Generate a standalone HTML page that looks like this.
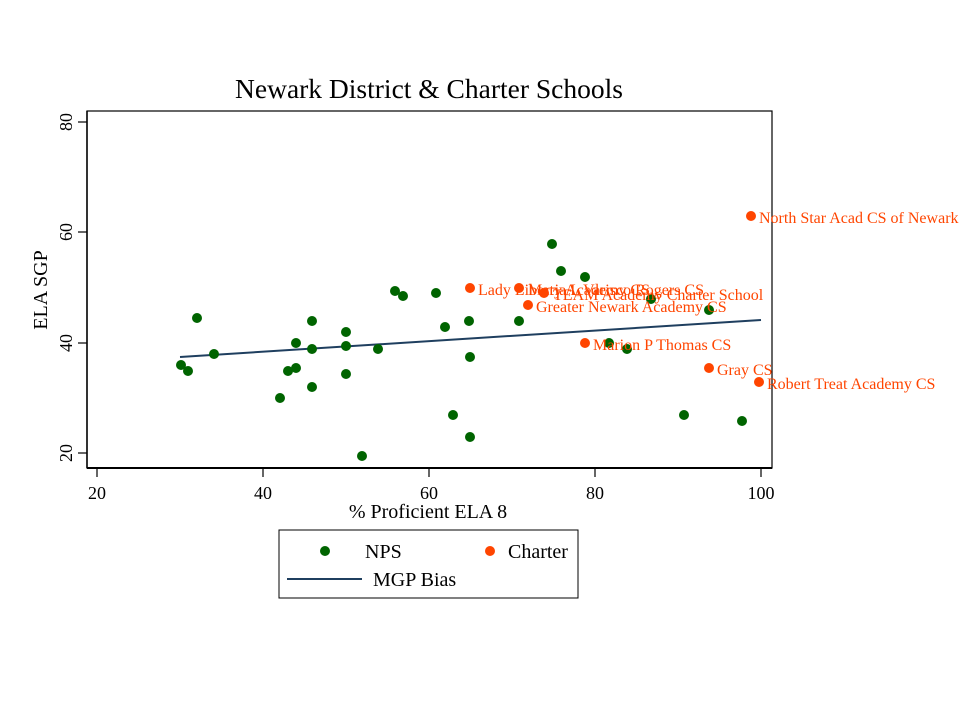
<!DOCTYPE html>
<html><head><style>body{margin:0;background:#fff}svg{display:block}text{font-family:"Liberation Serif",serif}</style></head><body>
<svg width="960" height="720" xmlns="http://www.w3.org/2000/svg">
<rect width="960" height="720" fill="#fff"/>
<text x="429" y="98" font-size="27.5" text-anchor="middle">Newark District &amp; Charter Schools</text>
<rect x="87" y="111" width="685" height="357" fill="none" stroke="#000" stroke-width="1.2"/>
<line x1="87" y1="468" x2="772" y2="468" stroke="#000" stroke-width="2"/>
<line x1="87" y1="111" x2="87" y2="468" stroke="#000" stroke-width="1.5"/>
<g stroke="#000" stroke-width="1.2">
<line x1="78" y1="122" x2="87" y2="122"/><line x1="78" y1="232" x2="87" y2="232"/><line x1="78" y1="343" x2="87" y2="343"/><line x1="78" y1="453" x2="87" y2="453"/>
<line x1="97" y1="468" x2="97" y2="477"/><line x1="263" y1="468" x2="263" y2="477"/><line x1="429" y1="468" x2="429" y2="477"/><line x1="595" y1="468" x2="595" y2="477"/><line x1="761" y1="468" x2="761" y2="477"/>
</g>
<g font-size="18" text-anchor="middle">
<text transform="translate(72,122) rotate(-90)">80</text>
<text transform="translate(72,232) rotate(-90)">60</text>
<text transform="translate(72,343) rotate(-90)">40</text>
<text transform="translate(72,453) rotate(-90)">20</text>
<text x="97" y="499">20</text><text x="263" y="499">40</text><text x="429" y="499">60</text><text x="595" y="499">80</text><text x="761" y="499">100</text>
</g>
<text transform="translate(47,290) rotate(-90)" font-size="20" text-anchor="middle">ELA SGP</text>
<text x="428" y="518" font-size="20" text-anchor="middle">% Proficient ELA 8</text>
<line x1="180" y1="357" x2="761" y2="320" stroke="#1f3f5f" stroke-width="2"/>
<g fill="#006400">
<circle cx="181" cy="365" r="5"/><circle cx="188" cy="371" r="5"/><circle cx="197" cy="318" r="5"/><circle cx="214" cy="354" r="5"/><circle cx="280" cy="398" r="5"/><circle cx="288" cy="371" r="5"/><circle cx="296" cy="343" r="5"/><circle cx="296" cy="368" r="5"/><circle cx="312" cy="321" r="5"/><circle cx="312" cy="349" r="5"/><circle cx="312" cy="387" r="5"/><circle cx="346" cy="332" r="5"/><circle cx="346" cy="346" r="5"/><circle cx="346" cy="374" r="5"/><circle cx="362" cy="456" r="5"/><circle cx="378" cy="349" r="5"/><circle cx="395" cy="291" r="5"/><circle cx="403" cy="296" r="5"/><circle cx="436" cy="293" r="5"/><circle cx="445" cy="327" r="5"/><circle cx="453" cy="415" r="5"/><circle cx="469" cy="321" r="5"/><circle cx="470" cy="357" r="5"/><circle cx="470" cy="437" r="5"/><circle cx="519" cy="321" r="5"/><circle cx="552" cy="244" r="5"/><circle cx="561" cy="271" r="5"/><circle cx="585" cy="277" r="5"/><circle cx="609" cy="343" r="5"/><circle cx="627" cy="349" r="5"/><circle cx="651" cy="299" r="5"/><circle cx="684" cy="415" r="5"/><circle cx="709" cy="310" r="5"/><circle cx="742" cy="421" r="5"/>
</g>
<g fill="#ff4500">
<circle cx="470" cy="288" r="5"/><circle cx="519" cy="288" r="5"/><circle cx="544" cy="293" r="5"/><circle cx="528" cy="305" r="5"/><circle cx="585" cy="343" r="5"/><circle cx="709" cy="368" r="5"/><circle cx="759" cy="382" r="5"/><circle cx="751" cy="216" r="5"/>
</g>
<g fill="#ff4500" font-size="16">
<text x="478" y="295">Lady Liberty Academy CS</text>
<text x="528" y="295">Maria L Varisco Rogers CS</text>
<text x="553" y="300">TEAM Academy Charter School</text>
<text x="536" y="312">Greater Newark Academy CS</text>
<text x="593" y="350">Marion P  Thomas CS</text>
<text x="717" y="375">Gray CS</text>
<text x="767" y="389">Robert Treat Academy CS</text>
<text x="759" y="223">North Star Acad  CS of Newark</text>
</g>
<rect x="279" y="530" width="299" height="68" fill="#fff" stroke="#000" stroke-width="1"/>
<circle cx="325" cy="551" r="5" fill="#006400"/>
<text x="365" y="558" font-size="20">NPS</text>
<circle cx="490" cy="551" r="5" fill="#ff4500"/>
<text x="508" y="558" font-size="20">Charter</text>
<line x1="287" y1="579" x2="362" y2="579" stroke="#1f3f5f" stroke-width="2"/>
<text x="373" y="586" font-size="20">MGP Bias</text>
</svg>
</body></html>
